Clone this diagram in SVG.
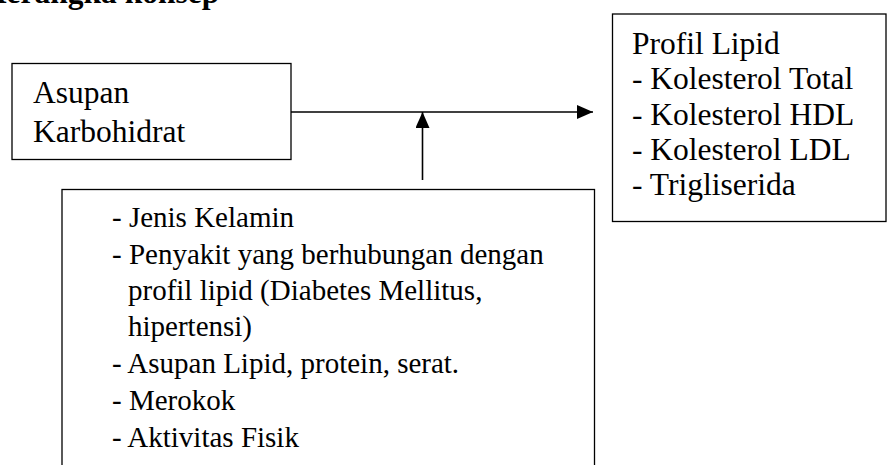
<svg xmlns="http://www.w3.org/2000/svg" width="889" height="465" viewBox="0 0 889 465">
  <style>
    .box { fill: #ffffff; stroke: #000000; stroke-width: 1.3; }
    .txt { font-family: "Liberation Serif", "Times New Roman", serif; fill: #000000; }
    .big { font-size: 31.5px; }
    .mid { font-size: 29px; }
    .title { font-family: "Liberation Serif", "Times New Roman", serif; font-weight: bold; font-size: 31.5px; fill: #000000; }
    .wire { stroke: #000000; stroke-width: 1.6; fill: none; }
  </style>
  <defs>
    <marker id="head" viewBox="0 0 16 14" refX="16" refY="7" markerWidth="16" markerHeight="14" markerUnits="userSpaceOnUse" orient="auto">
      <path d="M0,0 L16,7 L0,14 Z" fill="#000000"/>
    </marker>
  </defs>

  <rect width="889" height="465" fill="#ffffff"/>

  <!-- heading, cut by the top edge -->
  <text class="title" x="-18" y="3">Kerangka konsep</text>

  <g id="connectors">
    <line class="wire" x1="291" y1="112" x2="593" y2="112" marker-end="url(#head)"/>
    <line class="wire" x1="422.5" y1="180" x2="422.5" y2="112" marker-end="url(#head)"/>
  </g>

  <g id="asupan-karbohidrat">
    <rect class="box" x="12" y="63.5" width="279" height="96"/>
    <text class="txt big" x="33" y="103">Asupan</text>
    <text class="txt big" x="33" y="141.5">Karbohidrat</text>
  </g>

  <g id="profil-lipid">
    <rect class="box" x="612.5" y="14" width="273.5" height="207.5"/>
    <text class="txt big" x="632" y="53.5">Profil Lipid</text>
    <text class="txt big" x="632" y="89">- Kolesterol Total</text>
    <text class="txt big" x="632" y="124.5">- Kolesterol HDL</text>
    <text class="txt big" x="632" y="160">- Kolesterol LDL</text>
    <text class="txt big" x="632" y="195">- Trigliserida</text>
  </g>

  <g id="faktor-lain">
    <rect class="box" x="62" y="189.5" width="532.5" height="300"/>
    <text class="txt mid" x="112" y="227">- Jenis Kelamin</text>
    <text class="txt mid" x="112" y="264">- Penyakit yang berhubungan dengan</text>
    <text class="txt mid" x="128" y="300">profil lipid (Diabetes Mellitus,</text>
    <text class="txt mid" x="128" y="336">hipertensi)</text>
    <text class="txt mid" x="112" y="373">- Asupan Lipid, protein, serat.</text>
    <text class="txt mid" x="112" y="410">- Merokok</text>
    <text class="txt mid" x="112" y="447">- Aktivitas Fisik</text>
  </g>
</svg>
